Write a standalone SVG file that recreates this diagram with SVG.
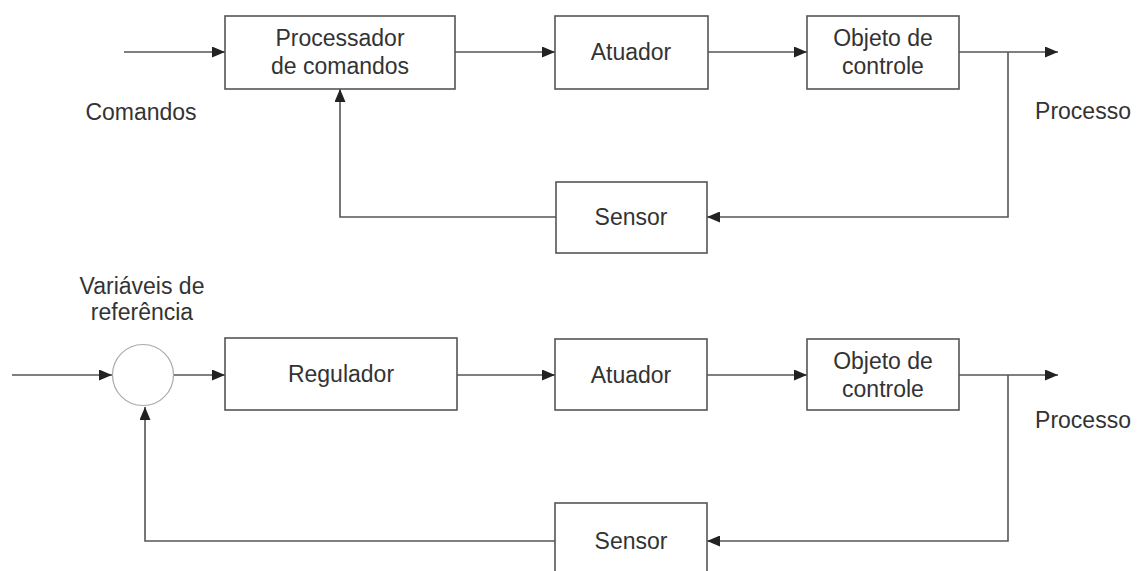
<svg xmlns="http://www.w3.org/2000/svg" width="1139" height="571" viewBox="0 0 1139 571">
  <defs>
    <marker id="arrow" viewBox="0 0 13 11" refX="13" refY="5.5" markerWidth="13" markerHeight="11" markerUnits="userSpaceOnUse" orient="auto">
      <path d="M0,0 L13,5.5 L0,11 z" fill="#222"/>
    </marker>
    <style>
      .box { fill: #fff; stroke: #555; stroke-width: 1.6; }
      .sum { fill: #fff; stroke: #aaa; stroke-width: 1.2; }
      .wire { fill: none; stroke: #555; stroke-width: 1.6; }
      .wire-in { marker-end: url(#arrow); }
      text { font-family: "Liberation Sans", Arial, sans-serif; font-size: 23px; fill: #333; text-anchor: middle; }
    </style>
  </defs>
  <rect width="1139" height="571" fill="#fff"/>

  <!-- connectors -->
  <g id="connectors">
    <!-- upper loop -->
    <path class="wire wire-in" d="M124,52 H225"/>
    <path class="wire wire-in" d="M455,52 H555"/>
    <path class="wire wire-in" d="M708,52 H807"/>
    <path class="wire wire-in" d="M959,52 H1058"/>
    <path class="wire wire-in" d="M1008,52 V217 H707"/>
    <path class="wire wire-in" d="M556,217 H340 V89"/>
    <!-- lower loop -->
    <path class="wire wire-in" d="M12,375 H112"/>
    <path class="wire wire-in" d="M173,375 H225"/>
    <path class="wire wire-in" d="M457,375 H555"/>
    <path class="wire wire-in" d="M707,375 H807"/>
    <path class="wire wire-in" d="M959,375 H1058"/>
    <path class="wire wire-in" d="M1008,375 V541 H707"/>
    <path class="wire wire-in" d="M555,541 H145 V407"/>
  </g>

  <!-- upper loop nodes -->
  <g id="processador">
    <rect class="box" x="225" y="16" width="230" height="73"/>
    <text x="340" y="46">Processador</text>
    <text x="340" y="74">de comandos</text>
  </g>
  <g id="atuador-1">
    <rect class="box" x="555" y="16" width="153" height="73"/>
    <text x="631" y="60">Atuador</text>
  </g>
  <g id="objeto-1">
    <rect class="box" x="807" y="16" width="152" height="73"/>
    <text x="883" y="46">Objeto de</text>
    <text x="883" y="74">controle</text>
  </g>
  <g id="sensor-1">
    <rect class="box" x="556" y="182" width="151" height="71"/>
    <text x="631" y="225">Sensor</text>
  </g>
  <g id="labels-1">
    <text x="141" y="120">Comandos</text>
    <text x="1083" y="119">Processo</text>
  </g>

  <!-- lower loop nodes -->
  <g id="somador">
    <circle class="sum" cx="143" cy="375" r="30.5"/>
  </g>
  <g id="regulador">
    <rect class="box" x="225" y="338" width="232" height="72"/>
    <text x="341" y="382">Regulador</text>
  </g>
  <g id="atuador-2">
    <rect class="box" x="555" y="339" width="152" height="71"/>
    <text x="631" y="383">Atuador</text>
  </g>
  <g id="objeto-2">
    <rect class="box" x="807" y="339" width="152" height="71"/>
    <text x="883" y="369">Objeto de</text>
    <text x="883" y="397">controle</text>
  </g>
  <g id="sensor-2">
    <rect class="box" x="555" y="503" width="152" height="71"/>
    <text x="631" y="549">Sensor</text>
  </g>
  <g id="labels-2">
    <text x="142" y="294">Variáveis de</text>
    <text x="142" y="320">referência</text>
    <text x="1083" y="428">Processo</text>
  </g>
</svg>
